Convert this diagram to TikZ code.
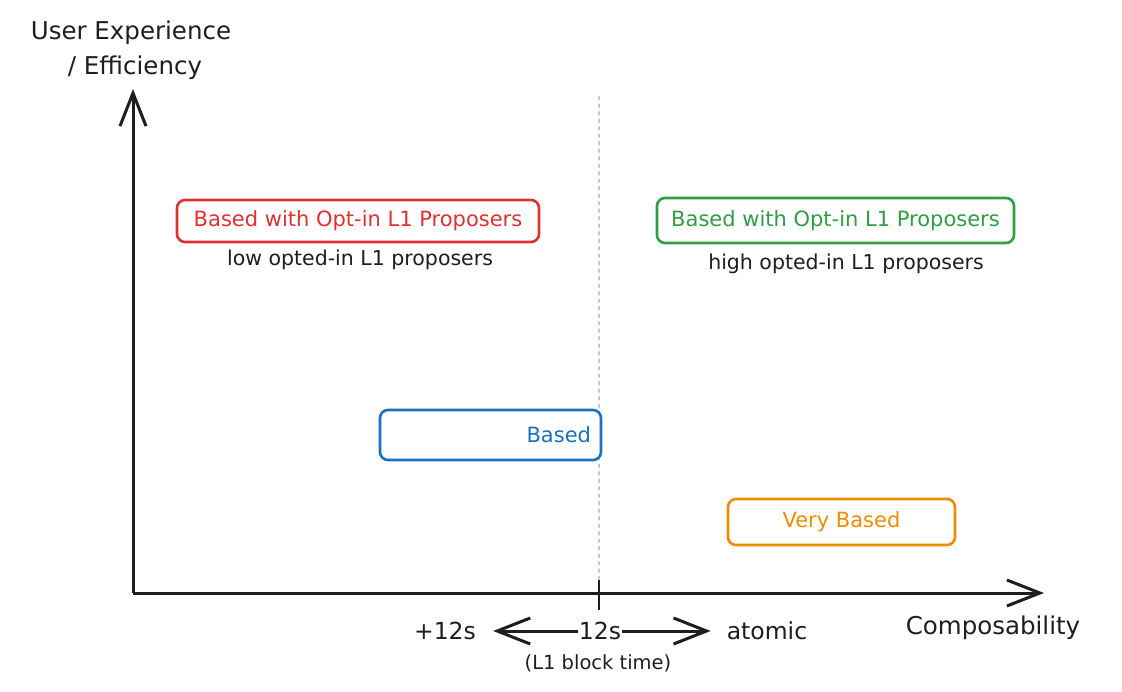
\documentclass[tikz,border=0pt]{standalone}
\usepackage{fontspec}
\setmainfont{DejaVu Sans}
\usetikzlibrary{arrows.meta}
\definecolor{xred}{HTML}{E03131}
\definecolor{xgreen}{HTML}{2F9E44}
\definecolor{xblue}{HTML}{1971C2}
\definecolor{xorange}{HTML}{F08C00}
\definecolor{xink}{HTML}{1E1E1E}
\tikzset{
  barb/.style={-{Straight Barb[length=33pt,width=26pt,line width=3pt]}},
  axis/.style={draw=xink, line width=3pt, barb},
  span/.style={draw=xink, line width=3pt, barb},
  optbox/.style={draw=#1, text=#1, line width=2.6pt, rounded corners=8pt, fill=white},
  boxfont/.style={font=\fontsize{21}{24}\selectfont},
  sublbl/.style={text=xink, font=\fontsize{20.5}{24}\selectfont, inner sep=1pt},
  axlbl/.style={text=xink, font=\fontsize{24.5}{35}\selectfont, inner sep=1pt},
  scalelbl/.style={text=xink, font=\fontsize{23.5}{28}\selectfont, inner sep=1pt},
}
\begin{document}
\begin{tikzpicture}[x=1pt,y=-1pt]
\useasboundingbox[fill=white] (0,0) rectangle (1122,692);
% dotted divider
\coordinate (dtop) at (599,97);
\coordinate (dbot) at (599,588);
\draw[draw=gray!45, line width=2.2pt, dash pattern=on 2.5pt off 5pt, line cap=round] (dtop) -- (dbot);
% axes
\coordinate (origin) at (133,593);
\coordinate (ytip) at (133,89);
\coordinate (xtip) at (1044,593);
\draw[axis] (origin) -- (ytip);
\draw[axis] (origin) -- (xtip);
% tick
\coordinate (tickt) at (599,580);
\coordinate (tickb) at (599,610);
\draw[draw=xink, line width=2.6pt] (tickt) -- (tickb);
% axis labels
\node[axlbl, align=center] (ylab) at (131,50) {User Experience\\\hspace*{8pt}/ Efficiency};
\node[axlbl] (xlab) at (993,628) {Composability};
% boxes
\node[optbox=xred, boxfont, minimum width=362pt, minimum height=42pt] (red) at (358,221) {Based with Opt-in L1 Proposers};
\node[sublbl] (redsub) at (360,260) {low opted-in L1 proposers};
\node[optbox=xgreen, boxfont, minimum width=357pt, minimum height=45pt] (green) at (835.5,220.5) {Based with Opt-in L1 Proposers};
\node[sublbl] (greensub) at (846,264) {high opted-in L1 proposers};
\node[optbox=xblue, boxfont, minimum width=221pt, minimum height=50pt, text width=201pt, align=right] (blue) at (490.5,435) {Based};
\node[optbox=xorange, boxfont, minimum width=227pt, minimum height=46pt] (orange) at (841.5,522) {Very Based};
% bottom scale
\node[scalelbl] (p12) at (445,631) {+12s};
\node[scalelbl] (s12) at (600,631) {12s};
\node[scalelbl] (atomic) at (767,631) {atomic};
\node[sublbl, font=\fontsize{19.5}{23}\selectfont] (blk) at (598,663) {(L1 block time)};
\draw[span] (s12.west) -- ([xshift=16pt]p12.east);
\draw[span] (s12.east) -- ([xshift=-15pt]atomic.west);
\end{tikzpicture}
\end{document}
